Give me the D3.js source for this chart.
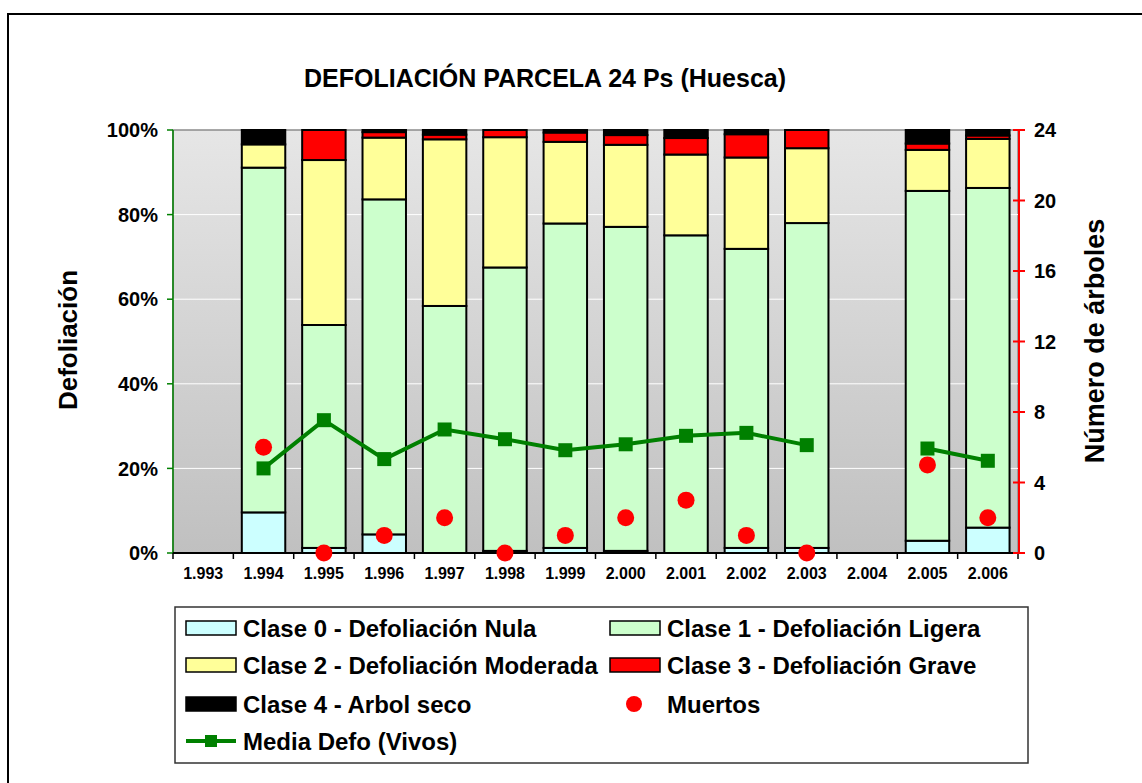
<!DOCTYPE html>
<html>
<head>
  <meta charset="UTF-8">
  <style>
    body { margin: 0; background: #fff; }
    svg { font-family: 'Liberation Sans', Arial, sans-serif; font-weight: bold; }
    .tick-label { font-size: 20px; fill: #000; }
    .xlabel { font-size: 16px; fill: #000; text-anchor: middle; }
    .legend text { font-size: 24px; fill: #000; }
  </style>
</head>
<body>
<script src="https://d3js.org/d3.v7.min.js"></script>
<script>
  // data (percent of trees per class, per year)
  let years  = ["1.993","1.994","1.995","1.996","1.997","1.998","1.999","2.000","2.001","2.002","2.003","2.004","2.005","2.006"];
  let clase0 = [null, 9.6, 1.2, 4.4, 0.0, 0.5, 1.2, 0.5, 0.0, 1.2, 1.2, null, 2.9, 6.0];
  let clase1 = [null, 81.5, 52.7, 79.2, 58.4, 67.0, 76.7, 76.6, 75.1, 70.7, 76.8, null, 82.7, 80.3];
  let clase2 = [null, 5.5, 39.0, 14.6, 39.4, 30.8, 19.3, 19.4, 19.1, 21.6, 17.7, null, 9.7, 11.6];
  let clase3 = [null, 0.0, 7.1, 1.3, 1.1, 1.7, 2.2, 2.3, 3.9, 5.5, 4.3, null, 1.5, 0.8];
  let clase4 = [null, 3.4, 0.0, 0.5, 1.1, 0.0, 0.6, 1.2, 1.9, 1.0, 0.0, null, 3.2, 1.3];
  let muertos = [null, 6, 0, 1, 2, 0, 1, 2, 3, 1, 0, null, 5, 2];
  let media   = [null, 20.0, 31.4, 22.2, 29.2, 26.9, 24.3, 25.7, 27.7, 28.4, 25.5, null, 24.7, 21.8];
  let leftTicks  = [0, 20, 40, 60, 80, 100];
  let rightTicks = [0, 4, 8, 12, 16, 20, 24];

  let classNames  = ["Clase 0 - Defoliación Nula", "Clase 1 - Defoliación Ligera", "Clase 2 - Defoliación Moderada",
                     "Clase 3 - Defoliación Grave", "Clase 4 - Arbol seco"];
  let classColors = ["#ccffff", "#ccffcc", "#ffff99", "#ff0000", "#000000"];

  let width = 1142, height = 783;
  let pLeft = 173, pRight = 1018, pTop = 130, pBottom = 553;

  let svg = d3.select("body").append("svg")
    .attr("width", width)
    .attr("height", height);

  // outer chart frame
  svg.append("rect")
    .attr("x", 8).attr("y", 14)
    .attr("width", 1200).attr("height", 900)
    .attr("fill", "#fff")
    .attr("stroke", "#000")
    .attr("stroke-width", 2);

  let grad = svg.append("defs").append("linearGradient")
    .attr("id", "plotbg")
    .attr("x1", 0).attr("y1", 0).attr("x2", 0).attr("y2", 1);
  grad.append("stop").attr("offset", "0%").attr("stop-color", "#e6e6e6");
  grad.append("stop").attr("offset", "100%").attr("stop-color", "#c0c0c0");

  let x = d3.scaleBand().domain(years).range([pLeft, pRight]).padding(0);
  let yL = d3.scaleLinear().domain([0, 100]).range([pBottom, pTop]);
  let yR = d3.scaleLinear().domain([0, 24]).range([pBottom, pTop]);
  let barW = x.bandwidth() * 0.72;

  // plot background
  svg.append("rect")
    .attr("x", pLeft).attr("y", pTop)
    .attr("width", pRight - pLeft).attr("height", pBottom - pTop)
    .attr("fill", "url(#plotbg)")
    .attr("stroke", "#8c8c8c")
    .attr("stroke-width", 1.5);

  // white grid lines
  svg.append("g").selectAll("line")
    .data(leftTicks.filter(t => t > 0 && t < 100))
    .enter().append("line")
    .attr("x1", pLeft).attr("x2", pRight)
    .attr("y1", d => yL(d)).attr("y2", d => yL(d))
    .attr("stroke", "#fff").attr("stroke-width", 1);

  // stacked bars
  let table = years.map((y, i) => ({
    year: y, c0: clase0[i], c1: clase1[i], c2: clase2[i], c3: clase3[i], c4: clase4[i]
  })).filter(d => d.c1 !== null);
  let stack = d3.stack().keys(["c0", "c1", "c2", "c3", "c4"]);
  let series = stack(table);

  svg.append("g").selectAll("g")
    .data(series)
    .enter().append("g")
    .attr("fill", (d, i) => classColors[i])
    .selectAll("rect")
    .data(d => d.filter(s => s[1] - s[0] > 0))
    .enter().append("rect")
    .attr("x", d => x(d.data.year) + (x.bandwidth() - barW) / 2)
    .attr("y", d => yL(d[1]))
    .attr("width", barW)
    .attr("height", d => yL(d[0]) - yL(d[1]))
    .attr("stroke", "#000")
    .attr("stroke-width", 2);

  // left axis (green)
  let axL = svg.append("g");
  axL.append("line")
    .attr("x1", pLeft).attr("x2", pLeft).attr("y1", pTop).attr("y2", pBottom)
    .attr("stroke", "#008000").attr("stroke-width", 1.5);
  axL.selectAll(".tk").data(leftTicks).enter().append("line")
    .attr("x1", pLeft - 6).attr("x2", pLeft)
    .attr("y1", d => yL(d)).attr("y2", d => yL(d))
    .attr("stroke", "#008000").attr("stroke-width", 1.5);
  axL.selectAll("text").data(leftTicks).enter().append("text")
    .attr("class", "tick-label")
    .attr("x", pLeft - 15)
    .attr("y", d => yL(d))
    .attr("dy", "0.36em")
    .attr("text-anchor", "end")
    .text(d => d + "%");

  // bottom axis
  let axB = svg.append("g");
  axB.append("line")
    .attr("x1", pLeft).attr("x2", pRight).attr("y1", pBottom).attr("y2", pBottom)
    .attr("stroke", "#000").attr("stroke-width", 2);
  axB.selectAll(".tk").data(years.concat(["end"])).enter().append("line")
    .attr("x1", d => d === "end" ? pRight : x(d))
    .attr("x2", d => d === "end" ? pRight : x(d))
    .attr("y1", pBottom).attr("y2", pBottom + 6)
    .attr("stroke", "#000").attr("stroke-width", 1.5);
  axB.selectAll("text").data(years).enter().append("text")
    .attr("class", "xlabel")
    .attr("x", d => x(d) + x.bandwidth() / 2)
    .attr("y", pBottom + 26)
    .text(d => d);

  // right axis (red)
  let axR = svg.append("g");
  axR.append("line")
    .attr("x1", pRight + 1).attr("x2", pRight + 1).attr("y1", pTop).attr("y2", pBottom)
    .attr("stroke", "#ff0000").attr("stroke-width", 2);
  axR.selectAll(".tk").data(rightTicks).enter().append("line")
    .attr("x1", pRight - 5).attr("x2", pRight + 7)
    .attr("y1", d => yR(d)).attr("y2", d => yR(d))
    .attr("stroke", "#ff0000").attr("stroke-width", 2);
  axR.selectAll("text").data(rightTicks).enter().append("text")
    .attr("class", "tick-label")
    .attr("x", pRight + 16)
    .attr("y", d => yR(d))
    .attr("dy", "0.36em")
    .text(d => d);

  // Media Defo line (left axis), broken where there is no data
  let pts = years.map((y, i) => ({ year: y, v: media[i] }));
  let line = d3.line()
    .defined(d => d.v !== null)
    .x(d => x(d.year) + x.bandwidth() / 2)
    .y(d => yL(d.v));
  svg.append("path")
    .datum(pts)
    .attr("d", line)
    .attr("fill", "none")
    .attr("stroke", "#008000")
    .attr("stroke-width", 4);
  svg.append("g").selectAll("rect")
    .data(pts.filter(d => d.v !== null))
    .enter().append("rect")
    .attr("x", d => x(d.year) + x.bandwidth() / 2 - 7)
    .attr("y", d => yL(d.v) - 7)
    .attr("width", 14).attr("height", 14)
    .attr("fill", "#008000");

  // Muertos dots (right axis)
  svg.append("g").selectAll("circle")
    .data(years.map((y, i) => ({ year: y, v: muertos[i] })).filter(d => d.v !== null))
    .enter().append("circle")
    .attr("cx", d => x(d.year) + x.bandwidth() / 2)
    .attr("cy", d => yR(d.v))
    .attr("r", 8.5)
    .attr("fill", "#ff0000");

  // titles
  svg.append("text")
    .attr("x", 545).attr("y", 87)
    .attr("text-anchor", "middle")
    .style("font-size", "25px")
    .text("DEFOLIACIÓN PARCELA 24 Ps (Huesca)");
  svg.append("text")
    .attr("transform", "translate(77,340) rotate(-90)")
    .attr("text-anchor", "middle")
    .style("font-size", "26px")
    .text("Defoliación");
  svg.append("text")
    .attr("transform", "translate(1104,341) rotate(-90)")
    .attr("text-anchor", "middle")
    .style("font-size", "27px")
    .text("Número de árboles");

  // legend
  let lg = svg.append("g").attr("class", "legend");
  lg.append("rect")
    .attr("x", 175).attr("y", 607)
    .attr("width", 853).attr("height", 156)
    .attr("fill", "#fff")
    .attr("stroke", "#333")
    .attr("stroke-width", 1.5);

  let colX = [186, 610];
  let rowY = [628, 665, 704, 741];
  let items = classNames.map((n, i) => ({ name: n, type: "box", color: classColors[i] }));
  items.push({ name: "Muertos", type: "dot", color: "#ff0000" });
  items.push({ name: "Media Defo (Vivos)", type: "line", color: "#008000" });

  items.forEach((it, i) => {
    let cx = colX[i % 2], cy = rowY[Math.floor(i / 2)];
    if (it.type === "box") {
      lg.append("rect")
        .attr("x", cx).attr("y", cy - 7)
        .attr("width", 50).attr("height", 14)
        .attr("fill", it.color)
        .attr("stroke", "#000").attr("stroke-width", 1.5);
    } else if (it.type === "dot") {
      lg.append("circle")
        .attr("cx", cx + 24).attr("cy", cy)
        .attr("r", 8).attr("fill", it.color);
    } else {
      lg.append("line")
        .attr("x1", cx).attr("x2", cx + 50)
        .attr("y1", cy).attr("y2", cy)
        .attr("stroke", it.color).attr("stroke-width", 4);
      lg.append("rect")
        .attr("x", cx + 19).attr("y", cy - 6)
        .attr("width", 12).attr("height", 12)
        .attr("fill", it.color);
    }
    lg.append("text")
      .attr("x", cx + 57).attr("y", cy)
      .attr("dy", "0.36em")
      .text(it.name);
  });
</script>
</body>
</html>
